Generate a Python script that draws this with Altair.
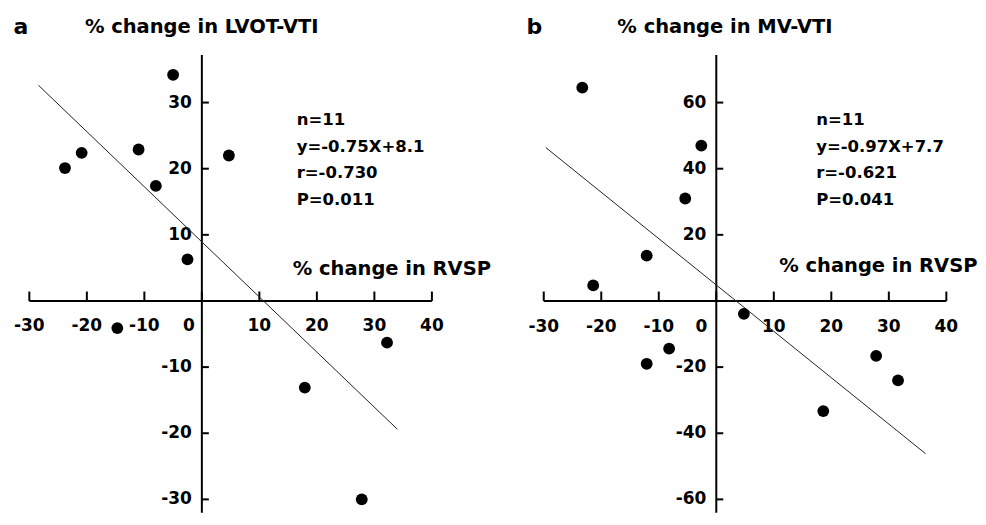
import altair as alt
import pandas as pd

# ---------------- data ----------------
lvot_rvsp = [-5.0, -23.8, -20.9, -11.0, -8.0, 4.7, -2.5, -14.7, 32.2, 17.9, 27.8]
lvot_vti = [34.2, 20.1, 22.4, 22.9, 17.4, 22.0, 6.3, -4.1, -6.3, -13.1, -30.0]

mv_rvsp = [-23.3, -2.6, -5.4, -12.1, -21.4, 4.8, -8.2, -12.1, 27.8, 31.6, 18.6]
mv_vti = [64.5, 47.0, 31.0, 13.7, 4.7, -3.9, -14.4, -19.0, -16.6, -24.0, -33.3]

fit_a_x = [-28.4, 34.0]
fit_a_y = [32.6, -19.4]
fit_b_x = [-29.65, 36.4]
fit_b_y = [46.4, -46.2]

x_ticks = [-30, -20, -10, 0, 10, 20, 30, 40]
x_tick_labels = ["-30", "-20", "-10", "0", "10", "20", "30", "40"]
ya_ticks = [30, 20, 10, -10, -20, -30]
yb_ticks = [60, 40, 20, -20, -40, -60]

stats_a = ["n=11", "y=-0.75X+8.1", "\u00a0r=-0.730", "P=0.011"]
stats_b = ["n=11", "y=-0.97X+7.7", "\u00a0r=-0.621", "P=0.041"]

FONT = "DejaVu Sans"
BLACK = "#000000"
H = 505


def panel(px, py, fx, fy, y_ticks, xdom, ydom, y_top, width,
          letter, letter_pos, title, title_pos, stats, stats_pos,
          xlab_pos, zero_dx, rvsp_pos):
    xs = alt.Scale(domain=xdom, nice=False, zero=False)
    ys = alt.Scale(domain=ydom, nice=False, zero=False)

    def X(f):
        return alt.X(f, type="quantitative", scale=xs, axis=None)

    def Y(f):
        return alt.Y(f, type="quantitative", scale=ys, axis=None)

    pts = pd.DataFrame({"x": px, "y": py})
    fit = pd.DataFrame({"x": fx, "y": fy})
    xaxis = pd.DataFrame({"x": [x_ticks[0]], "x2": [x_ticks[-1]], "y": [0]})
    yaxis = pd.DataFrame({"x": [0], "y": [y_top], "y2": [ydom[0]]})
    xt = pd.DataFrame({"x": x_ticks, "y": [0] * len(x_ticks), "t": x_tick_labels})
    yt = pd.DataFrame({"x": [0] * len(y_ticks), "y": y_ticks,
                       "t": [str(v) for v in y_ticks]})

    txt = dict(font=FONT, fontWeight="bold", fontSize=17, color=BLACK)
    big = dict(font=FONT, fontWeight="bold", fontSize=19.5, color=BLACK)

    layers = [
        alt.Chart(xaxis).mark_rule(color=BLACK, strokeWidth=2).encode(
            x=X("x"), x2="x2", y=Y("y")),
        alt.Chart(yaxis).mark_rule(color=BLACK, strokeWidth=2).encode(
            x=X("x"), y=Y("y"), y2="y2"),
        alt.Chart(xt).mark_tick(orient="vertical", size=9.5, thickness=2,
                                color=BLACK, yOffset=-4.7, opacity=1).encode(
            x=X("x"), y=Y("y")),
        alt.Chart(yt).mark_tick(orient="horizontal", size=7, thickness=2,
                                color=BLACK, xOffset=3.5, opacity=1).encode(
            x=X("x"), y=Y("y")),
        alt.Chart(xt[xt["x"] != 0]).mark_text(
            align="center", baseline="middle", dy=xlab_pos, **txt).encode(
            x=X("x"), y=Y("y"), text="t:N"),
        alt.Chart(xt[xt["x"] == 0]).mark_text(
            align="center", baseline="middle", dy=xlab_pos, dx=zero_dx, **txt).encode(
            x=X("x"), y=Y("y"), text="t:N"),
        alt.Chart(yt).mark_text(
            align="right", baseline="middle", dx=-10, **txt).encode(
            x=X("x"), y=Y("y"), text="t:N"),
        alt.Chart(fit).mark_line(color="#222222", strokeWidth=1).encode(
            x=X("x"), y=Y("y")),
        alt.Chart(pts).mark_circle(size=140, color=BLACK, opacity=1).encode(
            x=X("x"), y=Y("y")),
        alt.Chart(pd.DataFrame({"t": [letter]})).mark_text(
            align="center", baseline="middle", font=FONT, fontWeight="bold",
            fontSize=22, color=BLACK).encode(
            x=alt.value(letter_pos[0]), y=alt.value(letter_pos[1]), text="t:N"),
        alt.Chart(pd.DataFrame({"t": [title]})).mark_text(
            align="left", baseline="middle", **big).encode(
            x=alt.value(title_pos[0]), y=alt.value(title_pos[1]), text="t:N"),
        alt.Chart(pd.DataFrame({"t": ["% change in RVSP"]})).mark_text(
            align="left", baseline="middle", **big).encode(
            x=alt.value(rvsp_pos[0]), y=alt.value(rvsp_pos[1]), text="t:N"),
        alt.Chart(pd.DataFrame({"t": ["\n".join(stats)]})).mark_text(
            align="left", baseline="top", lineBreak="\n", lineHeight=26.5,
            font=FONT, fontWeight="bold", fontSize=16.5, color=BLACK).encode(
            x=alt.value(stats_pos[0]), y=alt.value(stats_pos[1]), text="t:N"),
    ]
    return alt.layer(*layers).properties(width=width, height=H)


a = panel(lvot_rvsp, lvot_vti, fit_a_x, fit_a_y, ya_ticks,
          [-33.71, 55.75], [-32.02, 44.26], 37.2, 515,
          "a", (13, 19), "% change in LVOT-VTI", (77, 19),
          stats_a, (289, 104), 25, -13, (285, 261))

b = panel(mv_rvsp, mv_vti, fit_b_x, fit_b_y, yb_ticks,
          [-33.70, 44.81], [-64.04, 88.52], 74.4, 452,
          "b", (12, 19), "% change in MV-VTI", (95, 19),
          stats_b, (294, 104), 26, -15, (257, 258))

chart = alt.hconcat(a, b, spacing=0).properties(padding=0).configure(
    background="white").configure_view(stroke=None, strokeWidth=0)

chart.save("out.html", embed_options={"renderer": "svg", "actions": False})
